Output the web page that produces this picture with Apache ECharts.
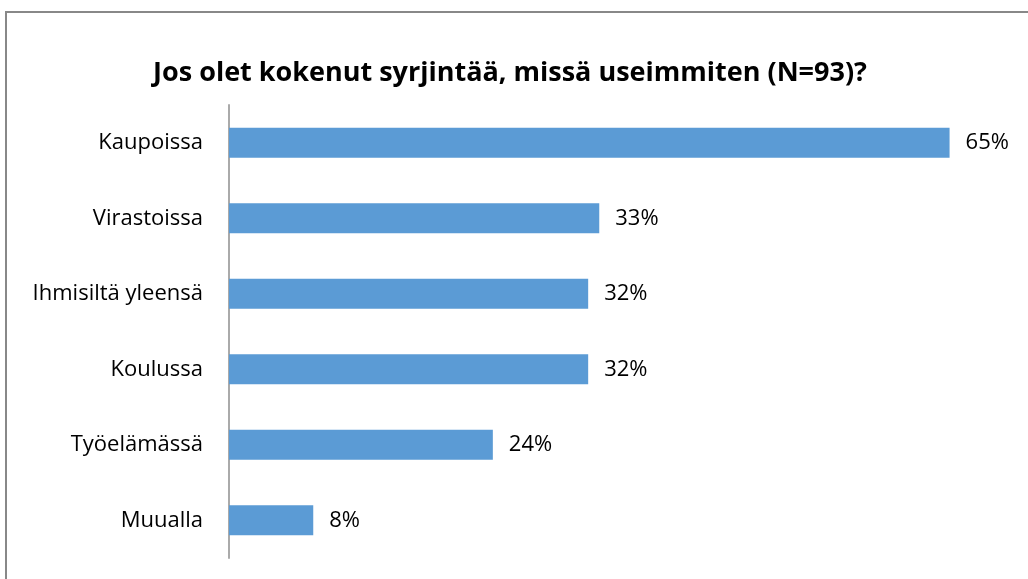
<!DOCTYPE html>
<html>
<head>
<meta charset="utf-8">
<script src="https://cdn.jsdelivr.net/npm/echarts@6/dist/echarts.min.js"></script>
<style>
  html, body { margin: 0; padding: 0; background: #fff; }
  #chart { width: 1028px; height: 579px; }
</style>
</head>
<body>
<div id="chart"></div>
<script>
const categories = ['Kaupoissa', 'Virastoissa', 'Ihmisiltä yleensä', 'Koulussa', 'Työelämässä', 'Muualla']
const values = [65.0, 33.4, 32.4, 32.4, 23.8, 7.6]
const titleText = 'Jos olet kokenut syrjintää, missä useimmiten (N=93)?'

const chart = echarts.init(document.getElementById('chart'))

chart.setOption({
  animation: false,
  title: {
    text: titleText,
    left: 505,
    top: 55,
    textAlign: 'center',
    textStyle: {
      fontFamily: 'Open Sans',
      fontSize: 27,
      fontWeight: 'bold',
      color: '#000'
    }
  },
  // outer frame of the chart (left and top edges only are visible)
  graphic: [
    {
      type: 'polyline',
      shape: { points: [[6, 579], [6, 12], [1028, 12]] },
      style: { stroke: '#888', lineWidth: 2, fill: null }
    }
  ],
  grid: {
    left: 229,
    right: 23,
    top: 105,
    bottom: 21
  },
  xAxis: {
    type: 'value',
    min: 0,
    max: 70,
    show: false
  },
  yAxis: {
    type: 'category',
    data: categories,
    inverse: true,
    axisLine: { show: true, lineStyle: { color: '#aaa', width: 2 } },
    axisTick: { show: false },
    axisLabel: {
      margin: 26,
      fontFamily: 'Open Sans',
      fontSize: 22,
      color: '#000'
    }
  },
  series: [
    {
      type: 'bar',
      data: values,
      barWidth: 30,
      itemStyle: { color: '#5b9bd5' },
      label: {
        show: true,
        position: 'right',
        distance: 16,
        fontFamily: 'Open Sans',
        fontSize: 22,
        color: '#000',
        formatter: p => Math.round(p.value) + '%'
      }
    }
  ]
})
</script>
</body>
</html>
